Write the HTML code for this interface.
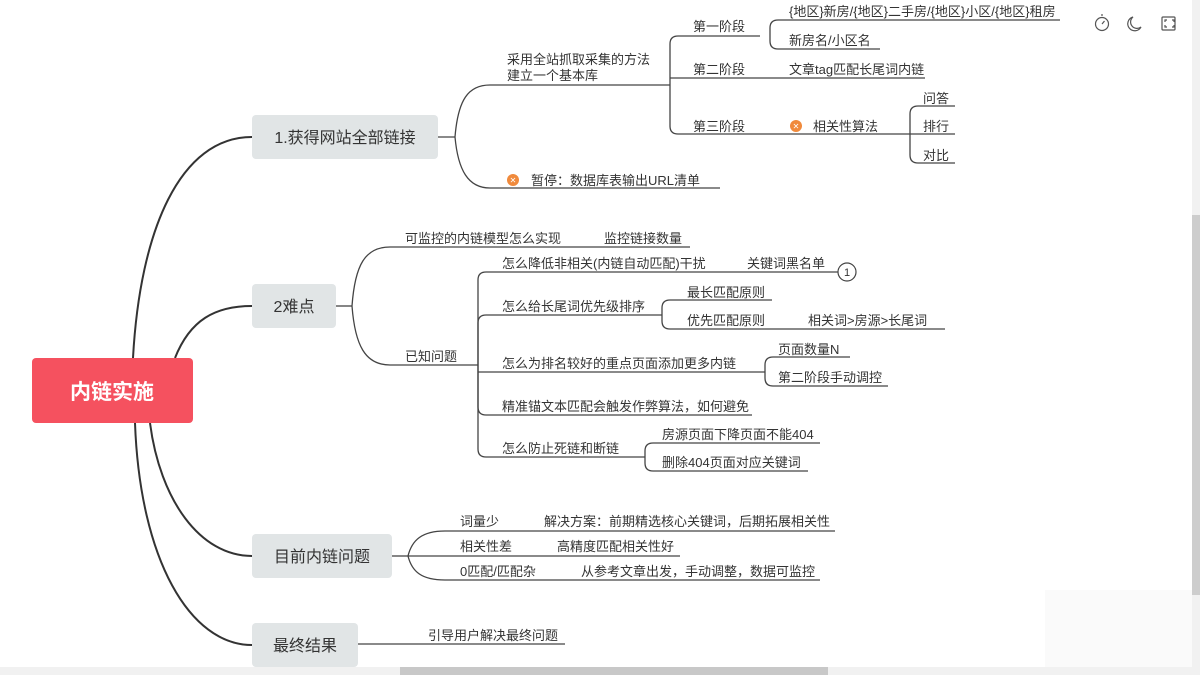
<!DOCTYPE html>
<html><head><meta charset="utf-8"><style>
html,body{margin:0;padding:0;background:#fff;width:1200px;height:675px;overflow:hidden}
svg{display:block}
text{font-family:"Liberation Sans","Noto Sans CJK SC",sans-serif;fill:#333;font-size:13px}
</style></head><body>
<svg width="1200" height="675" viewBox="0 0 1200 675" xmlns="http://www.w3.org/2000/svg">
<rect width="1200" height="675" fill="#fff"/>
<rect x="1045" y="590" width="147" height="77" fill="#fafafa"/>
<!-- main curves -->
<g fill="none" stroke="#333" stroke-width="2">
<path d="M133 358 C140 230 180 137 252 137"/>
<path d="M175 358 C190 320 215 306 252 306"/>
<path d="M150 423 C160 500 200 556 252 556"/>
<path d="M135 423 C140 560 190 645 252 645"/>
</g>
<!-- root -->
<rect x="32" y="358" width="161" height="65" rx="4" fill="#f5515f"/>
<text x="112" y="399" text-anchor="middle" style="font-size:21px;font-weight:bold;fill:#fff">内链实施</text>
<!-- branch nodes -->
<rect x="252" y="115" width="186" height="44" rx="4" fill="#e1e5e6"/>
<text x="345" y="143" text-anchor="middle" style="font-size:16px">1.获得网站全部链接</text>
<rect x="252" y="284" width="84" height="44" rx="4" fill="#e1e5e6"/>
<text x="294" y="312" text-anchor="middle" style="font-size:16px">2难点</text>
<rect x="252" y="534" width="140" height="44" rx="4" fill="#e1e5e6"/>
<text x="322" y="562" text-anchor="middle" style="font-size:16px">目前内链问题</text>
<rect x="252" y="623" width="106" height="44" rx="4" fill="#e1e5e6"/>
<text x="305" y="651" text-anchor="middle" style="font-size:16px">最终结果</text>

<g fill="none" stroke="#444" stroke-width="1.3">
<!-- branch1 -->
<path d="M438 137 H455"/>
<path d="M455 137 C458 100 468 85 490 85 H670"/>
<path d="M455 137 C458 170 468 188 490 188 H720"/>
<path d="M670 85 V44 Q670 36 678 36 H760"/>
<path d="M670 78 H925"/>
<path d="M670 85 V126 Q670 134 678 134 H910"/>
<path d="M770 36 V28 Q770 20 778 20 H1060"/>
<path d="M770 36 V41 Q770 49 778 49 H880"/>
<path d="M910 134 V114 Q910 106 918 106 H955"/>
<path d="M910 134 H955"/>
<path d="M910 134 V155 Q910 163 918 163 H955"/>
<!-- branch2 -->
<path d="M336 306 H352"/>
<path d="M352 306 C355 265 365 247 390 247 H690"/>
<path d="M352 306 C355 345 365 365 390 365 H478"/>
<path d="M478 365 V280 Q478 272 486 272 H838"/>
<path d="M478 365 V323 Q478 315 486 315 H662"/>
<path d="M478 372 H765"/>
<path d="M478 365 V407 Q478 415 486 415 H752"/>
<path d="M478 365 V449 Q478 457 486 457 H645"/>
<path d="M662 315 V308 Q662 300 670 300 H772"/>
<path d="M662 315 V321 Q662 329 670 329 H945"/>
<path d="M765 372 V365 Q765 357 773 357 H850"/>
<path d="M765 372 V378 Q765 386 773 386 H888"/>
<path d="M645 457 V451 Q645 443 653 443 H820"/>
<path d="M645 457 V463 Q645 471 653 471 H808"/>
<!-- branch3 -->
<path d="M392 556 H408"/>
<path d="M408 556 C412 540 422 531 445 531 H835"/>
<path d="M408 556 H680"/>
<path d="M408 556 C412 572 422 580 445 580 H820"/>
<!-- branch4 -->
<path d="M358 644 H565"/>
</g>
<circle cx="847" cy="272" r="9" fill="#fff" stroke="#444" stroke-width="1.2"/>
<text x="847" y="276" text-anchor="middle" style="font-size:11px">1</text>
<circle cx="513" cy="180" r="6" fill="#f08a3c"/>
<text x="513" y="183" text-anchor="middle" style="font-size:8px;fill:#fff">✕</text>
<circle cx="796" cy="126" r="6" fill="#f08a3c"/>
<text x="796" y="129" text-anchor="middle" style="font-size:8px;fill:#fff">✕</text>

<!-- branch1 texts -->
<text x="507" y="64">采用全站抓取采集的方法</text>
<text x="507" y="80">建立一个基本库</text>
<text x="531" y="185">暂停：数据库表输出URL清单</text>
<text x="693" y="31">第一阶段</text>
<text x="693" y="74">第二阶段</text>
<text x="693" y="131">第三阶段</text>
<text x="789" y="16">{地区}新房/{地区}二手房/{地区}小区/{地区}租房</text>
<text x="789" y="45">新房名/小区名</text>
<text x="789" y="74">文章tag匹配长尾词内链</text>
<text x="813" y="131">相关性算法</text>
<text x="923" y="103">问答</text>
<text x="923" y="131">排行</text>
<text x="923" y="160">对比</text>
<!-- branch2 texts -->
<text x="405" y="243">可监控的内链模型怎么实现</text>
<text x="604" y="243">监控链接数量</text>
<text x="405" y="361">已知问题</text>
<text x="502" y="268">怎么降低非相关(内链自动匹配)干扰</text>
<text x="747" y="268">关键词黑名单</text>
<text x="502" y="311">怎么给长尾词优先级排序</text>
<text x="687" y="297">最长匹配原则</text>
<text x="687" y="325">优先匹配原则</text>
<text x="808" y="325">相关词&gt;房源&gt;长尾词</text>
<text x="502" y="368">怎么为排名较好的重点页面添加更多内链</text>
<text x="778" y="354">页面数量N</text>
<text x="778" y="382">第二阶段手动调控</text>
<text x="502" y="411">精准锚文本匹配会触发作弊算法，如何避免</text>
<text x="502" y="453">怎么防止死链和断链</text>
<text x="662" y="439">房源页面下降页面不能404</text>
<text x="662" y="467">删除404页面对应关键词</text>
<!-- branch3 texts -->
<text x="460" y="526">词量少</text>
<text x="544" y="526">解决方案：前期精选核心关键词，后期拓展相关性</text>
<text x="460" y="551">相关性差</text>
<text x="557" y="551">高精度匹配相关性好</text>
<text x="460" y="576">0匹配/匹配杂</text>
<text x="581" y="576">从参考文章出发，手动调整，数据可监控</text>
<text x="428" y="640">引导用户解决最终问题</text>

<!-- top-right icons -->
<g fill="none" stroke="#555" stroke-width="1.2">
<circle cx="1102" cy="24" r="6.5"/><path d="M1102 16 v-2 M1102 24 l2.5 -3"/>
<path d="M1133 17 a7 7 0 1 0 8 10 a6 6 0 0 1 -8 -10z"/>
<rect x="1162" y="17" width="13" height="13" rx="1"/>
<path d="M1165 22 v-2 h2 M1172 20 h2 v2 M1174 25 v2 h-2 M1167 27 h-2 v-2"/>
</g>
<!-- scrollbars -->
<rect x="0" y="667" width="1192" height="8" fill="#f1f1f1"/>
<rect x="400" y="667" width="428" height="8" fill="#c8c8c8"/>
<rect x="1192" y="0" width="8" height="675" fill="#f1f1f1"/>
<rect x="1192" y="215" width="8" height="380" fill="#cdcdcd"/>
</svg>
</body></html>
